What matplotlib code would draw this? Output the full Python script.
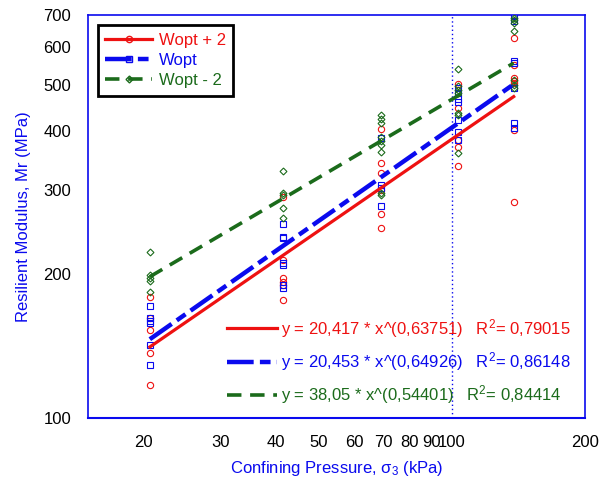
import matplotlib
matplotlib.use("Agg")
import matplotlib.pyplot as plt
import numpy as np
from matplotlib.ticker import FixedLocator, FixedFormatter, NullLocator
from matplotlib.lines import Line2D

plt.rcParams['font.family'] = ['Liberation Sans', 'DejaVu Sans']
plt.rcParams['mathtext.fontset'] = 'custom'
plt.rcParams['mathtext.rm'] = 'Liberation Sans'
plt.rcParams['mathtext.it'] = 'Liberation Sans'

# ---- data ----
red_x = [20.7]*5 + [41.4]*6 + [69.0]*6 + [103.4]*5 + [137.9]*7
red_y = [179, 162, 153, 137, 117,
         291, 214, 197, 193, 190, 177,
         403, 343, 326, 301, 268, 250,
         502, 447, 383, 370, 338,
         627, 551, 516, 510, 505, 402, 284]

blue_x = [20.7]*6 + [41.4]*7 + [69.0]*4 + [103.4]*7 + [137.9]*7
blue_y = [172, 162, 160, 158, 142, 129,
          255, 240, 238, 211, 209, 190, 187,
          386, 308, 303, 278,
          492, 480, 466, 461, 422, 397, 383,
          696, 680, 560, 554, 492, 416, 406]

green_x = [20.7]*5 + [41.4]*5 + [69.0]*9 + [103.4]*7 + [137.9]*7
green_y = [223, 199, 197, 194, 184,
           329, 297, 293, 276, 263,
           431, 424, 415, 389, 381, 374, 361, 297, 293,
           540, 496, 488, 480, 436, 432, 359,
           691, 683, 675, 649, 512, 500, 492]

series_names = ["Wopt + 2", "Wopt", "Wopt - 2"]
fit_a = [20.417, 20.453, 38.05]
fit_b = [0.63751, 0.64926, 0.54401]
fit_r2 = ["0,79015", "0,86148", "0,84414"]
fit_a_txt = ["20,417", "20,453", "38,05"]
fit_b_txt = ["0,63751", "0,64926", "0,54401"]
fit_range = [20.7, 137.9]

x_ticks = [20, 30, 40, 50, 60, 70, 80, 90, 100, 200]
y_ticks = [100, 200, 300, 400, 500, 600, 700]

RED = '#ee1111'
BLUE = '#0a0aee'
GREEN = '#1b6b1b'

fig = plt.figure(figsize=(6.05, 4.84), dpi=100)
ax = fig.add_axes([0.1455, 0.1364, 0.8215, 0.8326])
ax.set_xscale('log')
ax.set_yscale('log')
ax.set_xlim(15, 200)
ax.set_ylim(100, 700)

# scatter points
ax.plot(red_x, red_y, linestyle='none', marker='o', ms=4.5, mfc='none', mec=RED, mew=0.8, zorder=3)
ax.plot(blue_x, blue_y, linestyle='none', marker='s', ms=4.5, mfc='none', mec=BLUE, mew=0.8, zorder=3)
ax.plot(green_x, green_y, linestyle='none', marker='D', ms=3.5, mfc='none', mec=GREEN, mew=0.8, zorder=3)

# trend lines
xx = np.geomspace(fit_range[0], fit_range[1], 100)
colors = [RED, BLUE, GREEN]
styles = [dict(ls='-', lw=2.3), dict(ls=(0, (6, 1.4, 2.4, 1.4)), lw=3.2), dict(ls=(0, (4, 2.4)), lw=2.6)]
fit_handles = []
for a, b, c, st in zip(fit_a, fit_b, colors, styles):
    h, = ax.plot(xx, a * xx ** b, color=c, zorder=4, **st)
    fit_handles.append(h)

leg_handles = [
    Line2D([], [], color=RED, lw=2.3, ls='-', marker='o', ms=4.5, mfc='none', mec=RED),
    Line2D([], [], color=BLUE, lw=3.2, ls=(0, (6, 1.4, 2.4, 1.4)), marker='s', ms=4.5, mfc='none', mec=BLUE),
    Line2D([], [], color=GREEN, lw=2.6, ls=(0, (4, 2.4)), marker='D', ms=3.5, mfc='none', mec=GREEN),
]
leg1 = ax.legend(leg_handles, series_names, loc='upper left', bbox_to_anchor=(0.02, 0.975),
                 fontsize=12, numpoints=1, handlelength=2.8, handletextpad=0.4,
                 labelspacing=0.32, borderpad=0.45, fancybox=False, framealpha=1,
                 edgecolor='black', labelcolor='linecolor', borderaxespad=0)
leg1.get_frame().set_linewidth(2)
ax.add_artist(leg1)

eq_labels = [f"y = {at} * x^({bt})   R$^2$= {r}" for at, bt, r in zip(fit_a_txt, fit_b_txt, fit_r2)]
leg2 = ax.legend(fit_handles, eq_labels, loc='lower right', bbox_to_anchor=(0.995, 0.0),
                 fontsize=12, frameon=False, handlelength=3.0, handletextpad=0.25,
                 labelspacing=0.62, labelcolor='linecolor', borderaxespad=0.3)

ax.xaxis.set_major_locator(FixedLocator(x_ticks))
ax.xaxis.set_major_formatter(FixedFormatter([str(t) for t in x_ticks]))
ax.xaxis.set_minor_locator(NullLocator())
ax.yaxis.set_major_locator(FixedLocator(y_ticks))
ax.yaxis.set_major_formatter(FixedFormatter([str(t) for t in y_ticks]))
ax.yaxis.set_minor_locator(NullLocator())
ax.axvline(100, color=BLUE, ls=(0, (1, 2)), lw=1.0, zorder=1)

ax.tick_params(axis='both', length=0, labelsize=12, colors='black')
ax.tick_params(axis='x', pad=12)
ax.tick_params(axis='y', pad=12)

for s in ['left', 'top', 'right']:
    ax.spines[s].set_color(BLUE)
    ax.spines[s].set_linewidth(1.2)
ax.spines['bottom'].set_color(BLUE)
ax.spines['bottom'].set_linestyle((0, (1, 1)))
ax.spines['bottom'].set_linewidth(1.5)

ax.set_xlabel("Confining Pressure, σ$_3$ (kPa)", color=BLUE, fontsize=12, labelpad=7)
ax.set_ylabel("Resilient Modulus, Mr (MPa)", color=BLUE, fontsize=12, labelpad=9)

fig.savefig("out.png", dpi=100)
